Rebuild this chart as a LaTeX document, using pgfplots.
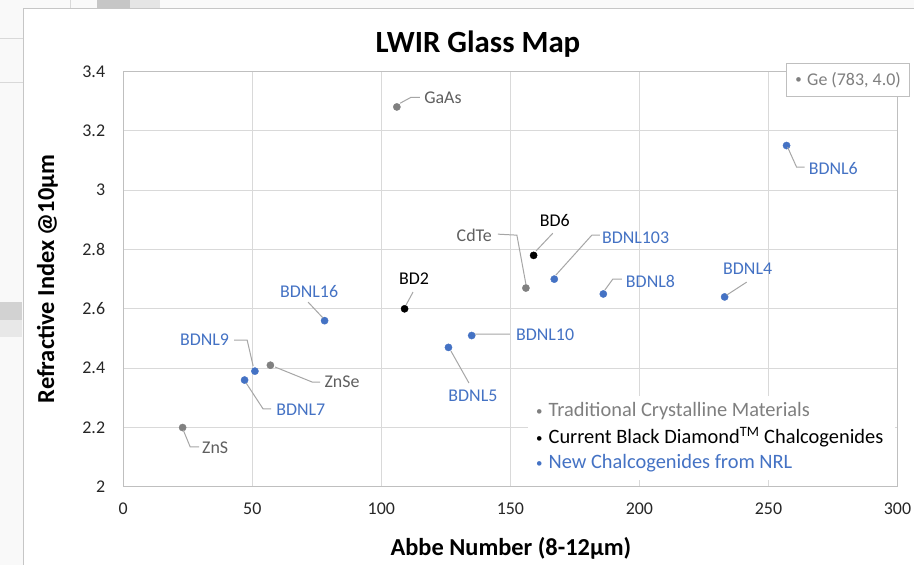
\documentclass[border=0pt]{standalone}
\usepackage{pgfplots}
\pgfplotsset{compat=1.18}
\usepackage{fontspec}
\setmainfont{Carlito}
\definecolor{ptgray}{RGB}{128,128,128}
\definecolor{ptblue}{RGB}{68,114,196}
\definecolor{lblgray}{RGB}{95,95,95}
\definecolor{leggray}{RGB}{127,127,127}
\definecolor{leader}{RGB}{166,166,166}
\definecolor{gridc}{RGB}{217,217,217}
\definecolor{axc}{RGB}{191,191,191}
\newcommand{\fs}[1]{\fontsize{#1}{#1}\selectfont}
\newcommand{\bul}{\raisebox{1.2bp}{\fs{13}•}\hspace{0.3em}}
\begin{document}
\begin{tikzpicture}
% background (spreadsheet) and chart frame
\begin{scope}[x=1bp,y=-1bp,shift={(0,565bp)}]
\fill[gray!5] (0,0) rectangle (914,565);
\fill[gray!45] (97,0) rectangle (130,8);
\fill[gray!20] (130,0) rectangle (160,8);
\fill[gray!35] (0,302) rectangle (22,320);
\fill[gray!18] (0,320) rectangle (22,337);
\draw[gray!30,line width=0.8bp] (0,38) -- (23,38) (0,82) -- (23,82) (70,0) -- (70,8);
\fill[white] (23,8) rectangle (914,565);
\draw[gray!45,line width=1bp] (23,565) -- (23,8) -- (914,8);
\end{scope}
\begin{axis}[
  at={(123bp,78bp)}, anchor=south west,
  width=775bp, height=416bp, scale only axis,
  xmin=0, xmax=300, ymin=2, ymax=3.4,
  xtick distance=50, ytick distance=0.2,
  grid=major, major grid style={gridc, line width=0.9bp},
  axis line style={axc, line width=0.9bp},
  major tick length=0pt,
  tick label style={font=\fs{18}, text=black!85},
  /pgf/number format/assume math mode=true,
  yticklabel style={/pgf/number format/fixed, /pgf/number format/precision=1},
  yticklabel style={anchor=east, inner sep=0pt, xshift=-18bp},
  xticklabel style={anchor=north, inner sep=0pt, yshift=-16bp},
  clip=false,
]
\addplot[only marks, mark=*, mark size=3.6bp, mark options={fill=ptgray, draw=ptgray}] coordinates {
 (106,3.28) (23,2.20) (57,2.41) (156,2.67)
};
\addplot[only marks, mark=*, mark size=3.6bp, mark options={fill=black, draw=black}] coordinates {
 (109,2.60) (159,2.78)
};
\addplot[only marks, mark=*, mark size=3.6bp, mark options={fill=ptblue, draw=ptblue}] coordinates {
 (257,3.15) (167,2.70) (186,2.65) (233,2.64) (78,2.56) (135,2.51) (126,2.47) (51,2.39) (47,2.36)
};
\end{axis}
\begin{scope}[x=1bp,y=-1bp,shift={(0,565bp)}]
% title and axis titles
\node[font=\fs{31}\bfseries] at (478,44) {LWIR Glass Map};
\node[font=\fs{24.5}\bfseries] at (511,549) {Abbe Number (8-12µm)};
\node[font=\fs{24.5}\bfseries, rotate=90] at (47,279) {Refractive Index @10µm};
% leader lines
\draw[leader, line width=1bp]
  (400,103) -- (411,97) -- (420,97)
  (183,430) -- (190,447) -- (199,447)
  (275,367) -- (312,382) -- (320,382)
  (253,366) -- (247,340) -- (234,340)
  (246,383) -- (263,409) -- (271,409)
  (406,305) -- (413,292)
  (536,251) -- (553,233)
  (526,284) -- (517,235) -- (498,234)
  (556,275) -- (592,235) -- (600,235)
  (605,290) -- (613,279) -- (622,279)
  (475,334) -- (510,334)
  (451,351) -- (469,383)
  (323,318) -- (308,302)
  (788,147) -- (797,167) -- (805,167)
  (727,295) -- (747,282);
% data labels
\begin{scope}[font=\fs{18}, inner sep=0pt]
\node[lblgray] at (443,97) {GaAs};
\node[lblgray] at (215,448) {ZnS};
\node[lblgray] at (342,382) {ZnSe};
\node[lblgray, anchor=east] at (492,235) {CdTe};
\node[black] at (414,279) {BD2};
\node[black] at (555,220) {BD6};
\node[ptblue, anchor=west] at (602,238) {BDNL103};
\node[ptblue, anchor=west] at (626,281) {BDNL8};
\node[ptblue, anchor=west] at (516,335) {BDNL10};
\node[ptblue] at (473,396) {BDNL5};
\node[ptblue] at (309,291) {BDNL16};
\node[ptblue, anchor=east] at (229,340) {BDNL9};
\node[ptblue, anchor=west] at (276,410) {BDNL7};
\node[ptblue, anchor=west] at (809,168) {BDNL6};
\node[ptblue] at (748,269) {BDNL4};
\end{scope}
% Ge box
\draw[axc, fill=white, line width=1bp] (787,63) rectangle (910,96);
\node[leggray, font=\fs{18}, anchor=center, inner sep=0pt] at (848.5,79.5) {\bul Ge (783, 4.0)};
% legend text box
\fill[white] (528,396) rectangle (895,480);
\begin{scope}[font=\fs{20.5}, inner sep=0pt, anchor=west]
\node[leggray] at (536,411) {\bul Traditional Crystalline Materials};
\node[black] at (536,437) {\bul Current Black Diamond\textsuperscript{TM} Chalcogenides};
\node[ptblue] at (536,463) {\bul New Chalcogenides from NRL};
\end{scope}
\end{scope}
\end{tikzpicture}
\end{document}
